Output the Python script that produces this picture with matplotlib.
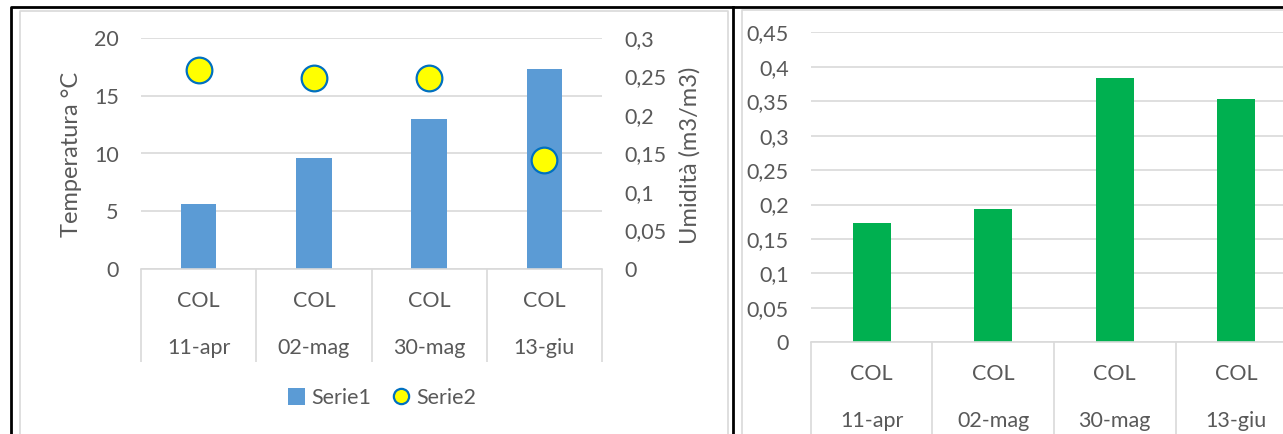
import matplotlib
matplotlib.use("Agg")
import matplotlib.pyplot as plt
from matplotlib.lines import Line2D
from matplotlib.patches import Patch
from matplotlib.ticker import FuncFormatter

plt.rcParams['font.family'] = ['Lato', 'DejaVu Sans']

# data
sites = ["COL", "COL", "COL", "COL"]
dates = ["11-apr", "02-mag", "30-mag", "13-giu"]
temperatura = [5.65, 9.65, 13.0, 17.3]      # Serie1, left axis
umidita = [0.258, 0.248, 0.248, 0.142]      # Serie2, right axis
umidita_2 = [0.173, 0.193, 0.383, 0.353]    # right chart

W, H = 1283, 434
txt = "#595959"
grid = "#D9D9D9"
fs = 15.5

fig = plt.figure(figsize=(W / 100, H / 100), dpi=100)

def box(x0, x1, y0, y1):
    # pixel coords -> figure fraction [left, bottom, width, height]
    return [x0 / W, 1 - y1 / H, (x1 - x0) / W, (y1 - y0) / H]

def comma(v, pos):
    s = ("%.2f" % v).rstrip("0").rstrip(".")
    return s.replace(".", ",")

def style(ax, sep_len):
    for s in ax.spines.values():
        s.set_visible(False)
    ax.spines["bottom"].set_visible(True)
    ax.spines["bottom"].set_color(grid)
    ax.spines["bottom"].set_linewidth(1.2)
    ax.yaxis.grid(True, color=grid, linewidth=1.2)
    ax.set_axisbelow(True)
    ax.tick_params(axis="y", length=0, pad=16, labelsize=fs, labelcolor=txt)
    ax.set_xlim(-0.5, len(dates) - 0.5)
    ax.set_xticks([i - 0.5 for i in range(len(dates) + 1)])
    ax.set_xticklabels([])
    ax.tick_params(axis="x", length=sep_len, width=1.2, color=grid, direction="out")

# ---------------- left chart ----------------
ax1 = fig.add_axes(box(141, 602, 38, 269))
x = range(len(dates))
ax1.bar(x, temperatura, width=0.31, color="#5B9BD5", zorder=2)
ax1.set_ylim(0, 20)
ax1.set_yticks([0, 5, 10, 15, 20])
style(ax1, 67)
ax2 = ax1.twinx()
ax2.plot(x, umidita, linestyle="none", marker="o", markersize=18.5,
         markerfacecolor="#FFFF00", markeredgecolor="#0070C0", markeredgewidth=1.6, zorder=3)
ax2.set_ylim(0, 0.3)
ax2.set_yticks([0, 0.05, 0.1, 0.15, 0.2, 0.25, 0.3])
ax2.yaxis.set_major_formatter(FuncFormatter(comma))
for s in ax2.spines.values():
    s.set_visible(False)
ax2.tick_params(axis="y", length=0, pad=16, labelsize=fs, labelcolor=txt)
for lab in ax2.get_yticklabels():
    lab.set_horizontalalignment("left")

for i in x:
    ax1.text(i, -32 / 231, sites[i], transform=ax1.get_xaxis_transform(),
             ha="center", va="center", fontsize=fs, color=txt)
    ax1.text(i, -79 / 231, dates[i], transform=ax1.get_xaxis_transform(),
             ha="center", va="center", fontsize=fs, color=txt)

fig.text(72 / W, 1 - 154 / H, "Temperatura °C", rotation=90, ha="center", va="center",
         fontsize=17, color=txt)
fig.text(690 / W, 1 - 155 / H, "Umidità (m3/m3)", rotation=90, ha="center", va="center",
         fontsize=17, color=txt)

handles = [Patch(facecolor="#5B9BD5", label="Serie1"),
           Line2D([], [], linestyle="none", marker="o", markersize=11,
                  markerfacecolor="#FFFF00", markeredgecolor="#0070C0",
                  markeredgewidth=1.6, label="Serie2")]
fig.legend(handles=handles, loc="center", bbox_to_anchor=(382 / W, 1 - 398 / H), ncol=2,
           frameon=False, fontsize=fs, labelcolor=txt, handlelength=0.8, handleheight=0.8,
           handletextpad=0.3, columnspacing=1.0)

# ---------------- right chart ----------------
ax3 = fig.add_axes(box(811, 1297, 32.3, 342.3))
ax3.bar(x, umidita_2, width=0.31, color="#00B050", zorder=2)
ax3.set_ylim(0, 0.45)
ax3.set_yticks([0, 0.05, 0.1, 0.15, 0.2, 0.25, 0.3, 0.35, 0.4, 0.45])
ax3.yaxis.set_major_formatter(FuncFormatter(comma))
style(ax3, 72)
for i in x:
    ax3.text(i, -32 / 310, sites[i], transform=ax3.get_xaxis_transform(),
             ha="center", va="center", fontsize=fs, color=txt)
    ax3.text(i, -79 / 310, dates[i], transform=ax3.get_xaxis_transform(),
             ha="center", va="center", fontsize=fs, color=txt)

# frames around the two pasted charts
def pline(xs, ys, color, lw):
    fig.add_artist(Line2D([v / W for v in xs], [1 - v / H for v in ys],
                          color=color, linewidth=lw))

pline([20, 20, 728, 728], [434, 11, 11, 434], grid, 1.2)
pline([742, 742, 1283], [434, 10, 10], grid, 1.2)
pline([11, 11, 1283], [434, 7, 7], "black", 2)
pline([733, 733], [7, 434], "black", 2)

fig.savefig("out.png", dpi=100)
